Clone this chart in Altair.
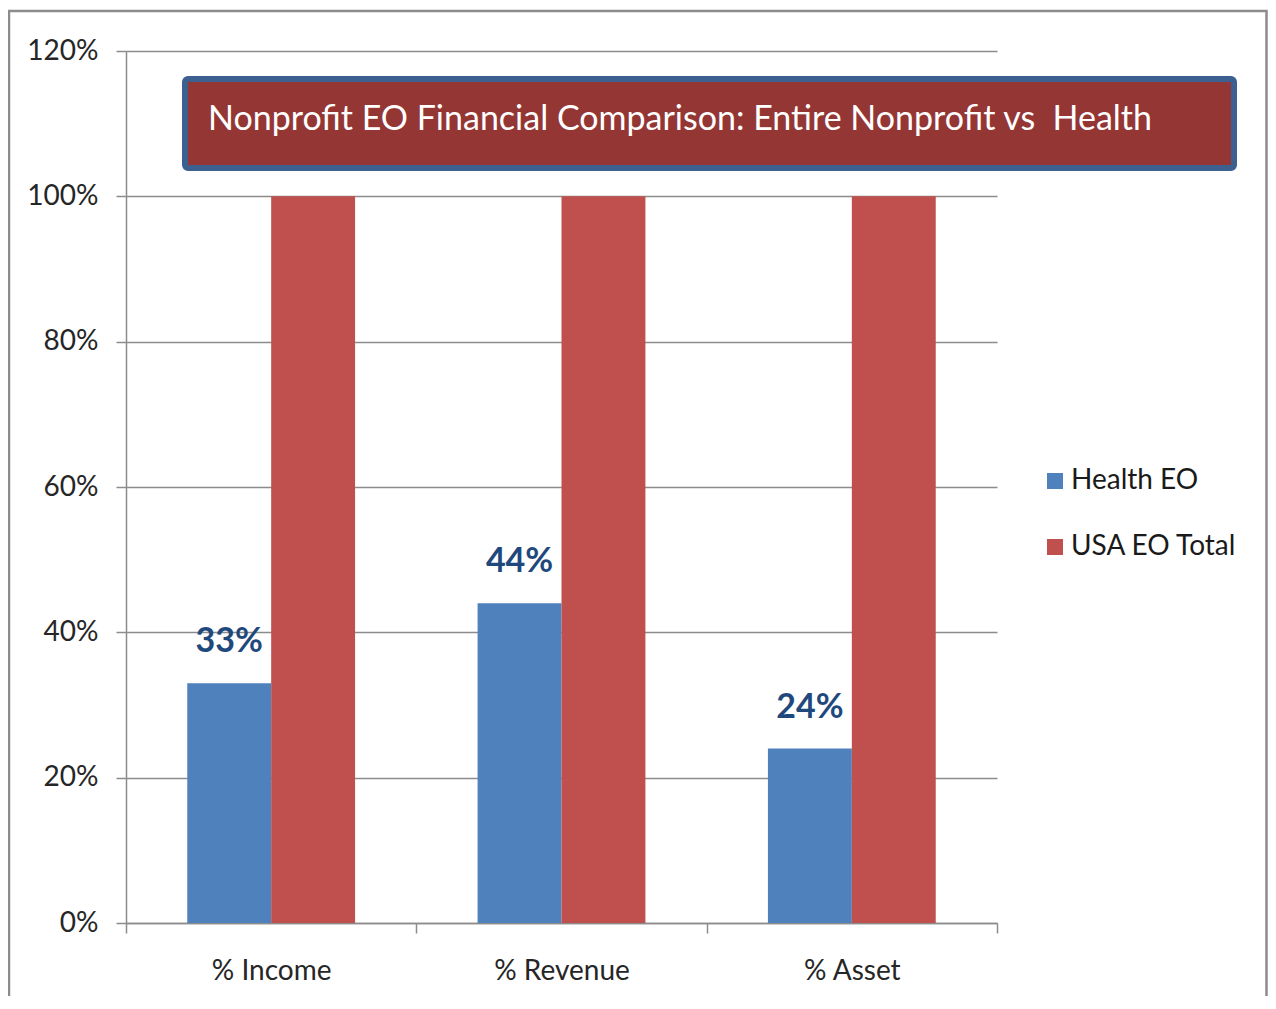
import altair as alt
import pandas as pd

categories = ["% Income", "% Revenue", "% Asset"]
series = ["Health EO", "USA EO Total"]
health_eo = [0.33, 0.44, 0.24]
usa_eo_total = [1.0, 1.0, 1.0]
y_ticks = [0, 0.2, 0.4, 0.6, 0.8, 1.0, 1.2]
title_text = "Nonprofit EO Financial Comparison: Entire Nonprofit vs\u00a0 Health"
colors = ["#4F81BD", "#C0504D"]

FONT = "Lato"
GRID = "#8c8c8c"

rows = []
for c, h, u in zip(categories, health_eo, usa_eo_total):
    rows.append({"category": c, "series": series[0], "value": h})
    rows.append({"category": c, "series": series[1], "value": u})
df = pd.DataFrame(rows)
lab = pd.DataFrame({"category": categories, "series": series[0], "value": health_eo})

x = alt.X("category:N", sort=categories,
          scale=alt.Scale(paddingInner=0, paddingOuter=0),
          axis=alt.Axis(title=None, tickBand="extent", labelAngle=0, labelFont=FONT,
                        labelFontSize=28, labelColor="#262626", labelPadding=24,
                        tickSize=10, tickColor=GRID, tickWidth=1.5,
                        domainColor=GRID, domainWidth=1.5, grid=False))
xo = alt.XOffset("series:N", sort=series,
                 scale=alt.Scale(domain=series, paddingInner=0, paddingOuter=0.73))
y = alt.Y("value:Q", scale=alt.Scale(domain=[0, 1.2], nice=False, zero=True),
          axis=alt.Axis(title=None, values=y_ticks, format=".0%", labelFont=FONT,
                        labelFontSize=28, labelColor="#262626", labelPadding=18,
                        tickSize=10, tickColor=GRID, tickWidth=1.5,
                        domainColor=GRID, domainWidth=1.5,
                        grid=True, gridColor=GRID, gridWidth=1.5))
color = alt.Color("series:N", sort=series,
                  scale=alt.Scale(domain=series, range=colors),
                  legend=alt.Legend(title=None, orient="none", legendX=915, legendY=416,
                                    symbolType="square", symbolSize=256,
                                    symbolStrokeWidth=0, labelFont=FONT,
                                    labelFontSize=28, labelColor="#1a1a1a",
                                    labelLimit=400,
                                    rowPadding=38, labelOffset=2, padding=0))

bars = alt.Chart(df).mark_bar().encode(x=x, xOffset=xo, y=y, color=color)

labels = alt.Chart(lab).mark_text(
    baseline="bottom", dy=-24, font=FONT, fontSize=34, fontWeight="bold", color="#1F497D"
).encode(x=x, xOffset=xo, y=y, text=alt.Text("value:Q", format=".0%"))

one = pd.DataFrame({"d": [0]})
title_box = alt.Chart(one).mark_rect(
    fill="#943634", stroke="#3C6090", strokeWidth=6, cornerRadius=3
).encode(x=alt.value(59), x2=alt.value(1108), y=alt.value(28), y2=alt.value(117))

title_txt = alt.Chart(one).mark_text(
    align="left", baseline="middle", font=FONT, fontSize=34, color="white"
).encode(x=alt.value(82), y=alt.value(69), text=alt.value(title_text))

border = alt.Chart(one).mark_rect(
    fill="white", fillOpacity=0, stroke="#8c8c8c", strokeWidth=2.5
).encode(x=alt.value(-117), x2=alt.value(1140.5), y=alt.value(-40), y2=alt.value(1000))

chart = alt.layer(bars, labels, title_box, title_txt, border).properties(
    width=871, height=872,
    padding={"left": 118, "top": 43, "right": 271, "bottom": 73},
    autosize=alt.AutoSizeParams(type="none"),
).configure_view(stroke=None)

chart.save("out.html", embed_options={"renderer": "svg", "actions": False})
